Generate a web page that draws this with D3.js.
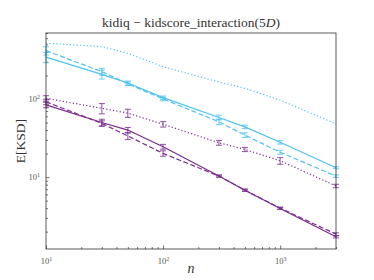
<!DOCTYPE html>
<html>
<head>
<meta charset="utf-8">
<script src="https://cdn.jsdelivr.net/npm/d3@7"></script>
<style>
  body { margin: 0; background: #fff; }
</style>
</head>
<body>
<div id="chart"></div>
<script>
// sample sizes
const nValues = [10, 30, 50, 100, 300, 500, 1000, 3000];

// expected KSD
const cyanSolid  = [343, 207, 160, 104, 58, 44, 27.9, 13.2];
const cyanDashed = [416, 224, 157, 100, 51, 34.5, 20.8, 10.3];
const cyanDotted = [518, 469, 385, 259, 165, 137, 97, 48];
const purpSolid  = [84, 50, 40, 24.5, 10.3, 6.8, 3.97, 1.72];
const purpDashed = [92, 48.7, 33.6, 20.1, 10.3, 6.8, 4.0, 1.86];
const purpDotted = [102, 76, 66, 47.5, 27.5, 22.6, 16.2, 7.7];

// half-widths of error bars (relative)
const errCyanSolid  = [0.15, 0.13, 0.06, 0.05, 0.07, 0.05, 0.05, 0.03];
const errCyanDashed = [0.12, 0.1, 0.05, 0.05, 0.08, 0.07, 0.06, 0.04];
const errPurpSolid  = [0.08, 0.1, 0.08, 0.07, 0.03, 0.03, 0.03, 0.03];
const errPurpDashed = [0.08, 0.08, 0.1, 0.08, 0.03, 0.03, 0.03, 0.04];
const errPurpDotted = [0.08, 0.15, 0.12, 0.08, 0.07, 0.06, 0.1, 0.05];

const cyan = "#4cc2f2";
const purple = "#7b2a90";

const series = [
  {vals: cyanDotted, err: null, color: cyan, dash: "1.2,2.2"},
  {vals: cyanDashed, err: errCyanDashed, color: cyan, dash: "5,2.5"},
  {vals: cyanSolid, err: errCyanSolid, color: cyan, dash: null},
  {vals: purpDotted, err: errPurpDotted, color: purple, dash: "1.2,2.2"},
  {vals: purpDashed, err: errPurpDashed, color: purple, dash: "5,2.5"},
  {vals: purpSolid, err: errPurpSolid, color: purple, dash: null}
];

const margin = {top: 33, right: 38, bottom: 31, left: 46};
const width = 374 - margin.left - margin.right,
      height = 280 - margin.top - margin.bottom;

const svg = d3.select("#chart")
  .append("svg")
  .attr("width", 374)
  .attr("height", 280)
  .attr("font-family", "'Liberation Serif', serif");

const chart = svg.append("g")
  .attr("transform", `translate(${margin.left}, ${margin.top})`);

const x = d3.scaleLog().domain([10, 3000]).range([0, width]);
const y = d3.scaleLog().domain([1.2, 700]).range([height, 0]);

function supLabel(sel) {
  sel.each(function(d) {
    const t = d3.select(this);
    const e = Math.round(Math.log10(d));
    t.text("10");
    t.append("tspan").attr("dy", "-0.5em").attr("font-size", "6px").text(e);
  });
}

const xMajor = [10, 100, 1000];
const xMinor = [];
for (const dec of [10, 100, 1000]) for (let k = 2; k <= 9; k++) if (k * dec <= 3000) xMinor.push(k * dec);
const yMajor = [10, 100];
const yMinor = [];
for (const dec of [1, 10, 100]) for (let k = 2; k <= 9; k++) if (k * dec >= 1.2 && k * dec <= 700) yMinor.push(k * dec);

// x axis (ticks inward)
const xAxisG = chart.append("g").attr("transform", `translate(0,${height})`);
xAxisG.call(d3.axisBottom(x).tickValues(xMinor).tickSize(-2).tickFormat(""));
xAxisG.append("g").call(d3.axisBottom(x).tickValues(xMajor).tickSize(-3.5).tickPadding(9))
  .selectAll("text").attr("font-size", "8.5px").attr("font-family", "'Liberation Serif', serif")
  .attr("fill", "#555").call(supLabel);

const yAxisG = chart.append("g");
yAxisG.call(d3.axisLeft(y).tickValues(yMinor).tickSize(-2).tickFormat(""));
yAxisG.append("g").call(d3.axisLeft(y).tickValues(yMajor).tickSize(-3.5).tickPadding(6))
  .selectAll("text").attr("font-size", "8.5px").attr("font-family", "'Liberation Serif', serif")
  .attr("fill", "#555").call(supLabel);

chart.selectAll(".domain").remove();
chart.selectAll(".tick line").attr("stroke", "#333").attr("stroke-width", 0.7);

// lines
const line = d3.line().x((d, i) => x(nValues[i])).y(d => y(d));

series.forEach(s => {
  chart.append("path")
    .datum(s.vals)
    .attr("d", line)
    .attr("fill", "none")
    .attr("stroke", s.color)
    .attr("stroke-width", 1.2)
    .attr("stroke-dasharray", s.dash);

  if (s.err) {
    const eb = chart.append("g")
      .attr("stroke", s.color)
      .attr("stroke-opacity", 0.75)
      .attr("stroke-width", 1.1);
    s.vals.forEach((v, i) => {
      const cx = x(nValues[i]);
      const lo = y(v * (1 - s.err[i])), hi = y(v * (1 + s.err[i]));
      eb.append("line").attr("x1", cx).attr("x2", cx).attr("y1", lo).attr("y2", hi);
      eb.append("line").attr("x1", cx - 3).attr("x2", cx + 3).attr("y1", lo).attr("y2", lo);
      eb.append("line").attr("x1", cx - 3).attr("x2", cx + 3).attr("y1", hi).attr("y2", hi);
    });
  }
});

// frame
chart.append("rect")
  .attr("width", width)
  .attr("height", height)
  .attr("fill", "none")
  .attr("stroke", "#333")
  .attr("stroke-width", 0.8);

// title
const title = svg.append("text")
  .attr("x", margin.left + width / 2)
  .attr("y", 27)
  .attr("text-anchor", "middle")
  .attr("font-size", "13.5px")
  .attr("fill", "#333");
title.append("tspan").text("kidiq \u2212 kidscore_interaction(5");
title.append("tspan").attr("font-style", "italic").text("D");
title.append("tspan").text(")");

// axis labels
svg.append("text")
  .attr("x", margin.left + width / 2)
  .attr("y", 273)
  .attr("text-anchor", "middle")
  .attr("font-size", "14px")
  .attr("font-style", "italic")
  .attr("fill", "#333")
  .text("n");

svg.append("text")
  .attr("transform", `translate(25,${margin.top + height / 2}) rotate(-90)`)
  .attr("text-anchor", "middle")
  .attr("font-size", "13.5px")
  .attr("fill", "#333")
  .text("E[KSD]");
</script>
</body>
</html>
